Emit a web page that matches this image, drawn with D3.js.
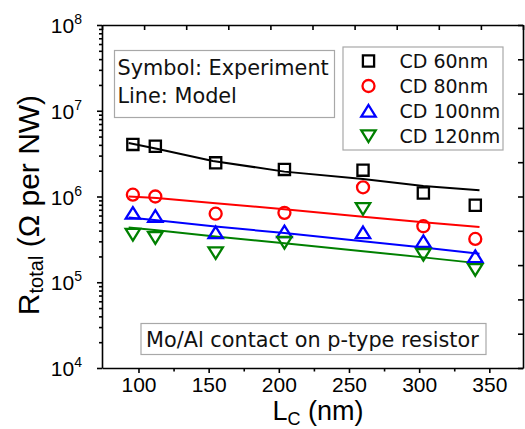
<!DOCTYPE html>
<html>
<head>
<meta charset="utf-8">
<script src="https://cdn.jsdelivr.net/npm/d3@7/dist/d3.min.js"></script>
<style>
  html, body { margin: 0; padding: 0; background: #fff; }
  svg { display: block; }
</style>
</head>
<body>
<svg id="chart" width="525" height="429"></svg>
<script>
// Contact length (nm) of the measured devices
const lc = [96, 112, 155, 204, 260, 303, 340];

// Measured total resistance (ohm per nanowire) for each critical dimension
const cd60 = [4.05e6, 3.86e6, 2.47e6, 2.07e6, 2.03e6, 1.10e6, 7.9e5];
const cd80 = [1.05e6, 1.00e6, 6.3e5, 6.45e5, 1.28e6, 4.5e5, 3.2e5];
const cd100 = [6.4e5, 5.9e5, 3.8e5, 3.9e5, 3.8e5, 3.0e5, 2.0e5];
const cd120 = [3.6e5, 3.3e5, 2.2e5, 2.9e5, 7.2e5, 2.1e5, 1.4e5];

// Model curves
const modelLc = [93, 113, 153, 204, 260, 303, 343];
const model60 = [4.2e6, 3.6e6, 2.6e6, 1.95e6, 1.6e6, 1.33e6, 1.18e6];
const model80 = [1.0e6, 9.6e5, 8.4e5, 7.1e5, 5.8e5, 5.0e5, 4.4e5];
const model100 = [5.7e5, 5.3e5, 4.5e5, 3.75e5, 3.0e5, 2.55e5, 2.15e5];
const model120 = [4.35e5, 4.05e5, 3.45e5, 2.85e5, 2.3e5, 1.95e5, 1.66e5];

const seriesNames = ["CD 60nm", "CD 80nm", "CD 100nm", "CD 120nm"];
const seriesColors = ["#000000", "#ff0000", "#0000ff", "#008000"];
const seriesShapes = ["square", "circle", "triangleUp", "triangleDown"];

const xTicks = [100, 150, 200, 250, 300, 350];
const xMinorTicks = [125, 175, 225, 275, 325];
const yTicks = [1e4, 1e5, 1e6, 1e7, 1e8];

const svg = d3.select("#chart");
const plotLeft = 102, plotRight = 523, plotTop = 25, plotBottom = 368;

const x = d3.scaleLinear().domain([74, 374]).range([plotLeft, plotRight]);
const y = d3.scaleLog().domain([1e4, 1e8]).range([plotBottom, plotTop]);

const seriesData = [cd60, cd80, cd100, cd120];
const modelData = [model60, model80, model100, model120];

// Marker outlines
function shapePath(shape) {
  switch (shape) {
    case "square": return "M-5.6,-5.6H5.6V5.6H-5.6Z";
    case "circle": return "M6,0A6,6 0 1 1 -6,0A6,6 0 1 1 6,0Z";
    case "triangleUp": return "M0,-6L7.2,5.6H-7.2Z";
    case "triangleDown": return "M0,6L7.2,-5.6H-7.2Z";
  }
}

// Model lines
const line = d3.line()
  .x((d, i) => x(modelLc[i]))
  .y(d => y(d));

modelData.forEach((vals, k) => {
  svg.append("path")
    .datum(vals)
    .attr("d", line)
    .attr("fill", "none")
    .attr("stroke", seriesColors[k])
    .attr("stroke-width", 2);
});

// Experimental markers
seriesData.forEach((vals, k) => {
  svg.append("g")
    .selectAll("path")
    .data(vals)
    .join("path")
    .attr("transform", (d, i) => `translate(${x(lc[i])},${y(d)})`)
    .attr("d", shapePath(seriesShapes[k]))
    .attr("fill", "none")
    .attr("stroke", seriesColors[k])
    .attr("stroke-width", 2.3);
});

// Axes
const axisFont = "'Liberation Sans', Arial, sans-serif";

const xAxis = svg.append("g")
  .attr("transform", `translate(0,${plotBottom})`)
  .call(d3.axisBottom(x).tickValues(xTicks).tickSize(5).tickSizeOuter(0).tickPadding(4));
xAxis.selectAll("text")
  .attr("font-family", axisFont).attr("font-size", 21).attr("fill", "#000");

svg.append("g")
  .attr("transform", `translate(0,${plotBottom})`)
  .call(d3.axisBottom(x).tickValues(xMinorTicks).tickSize(3.5).tickSizeOuter(0).tickFormat(""))
  .call(g => g.select(".domain").remove());

const yAxis = svg.append("g")
  .attr("transform", `translate(${plotLeft},0)`)
  .call(d3.axisLeft(y).tickValues(yTicks).tickSize(5).tickSizeOuter(0).tickFormat(""));

const yMinor = [];
for (let e = 4; e < 8; e++) for (let m = 2; m <= 9; m++) yMinor.push(m * Math.pow(10, e));
svg.append("g")
  .attr("transform", `translate(${plotLeft},0)`)
  .call(d3.axisLeft(y).tickValues(yMinor).tickSize(3).tickSizeOuter(0).tickFormat(""))
  .call(g => g.select(".domain").remove());

// Decade labels written as powers of ten
yAxis.selectAll(".tick").each(function (d) {
  const t = d3.select(this).append("text")
    .attr("x", -20).attr("y", 7.5)
    .attr("text-anchor", "end")
    .attr("font-family", axisFont).attr("font-size", 21).attr("fill", "#000");
  t.append("tspan").text("10");
  t.append("tspan").attr("font-size", 14).attr("dy", -9).text(Math.round(Math.log10(d)));
});

// Unlabelled top and right frame axes
const xTop = d3.scaleLinear().domain([0, 10]).range([plotLeft, plotRight]);
const yRight = d3.scaleLinear().domain([0, 10]).range([plotBottom, plotTop]);
svg.append("g")
  .attr("transform", `translate(0,${plotTop})`)
  .call(d3.axisBottom(xTop).ticks(10).tickSize(5).tickSizeOuter(0).tickFormat(""));
svg.append("g")
  .attr("transform", `translate(${plotRight},0)`)
  .call(d3.axisLeft(yRight).ticks(10).tickSize(5).tickSizeOuter(0).tickFormat(""));

svg.selectAll(".domain, .tick line").attr("stroke", "#000").attr("stroke-width", 1.6);

// Axis titles
const xTitle = svg.append("text")
  .attr("x", 318).attr("y", 420)
  .attr("text-anchor", "middle")
  .attr("font-family", axisFont).attr("font-size", 27).attr("fill", "#000");
xTitle.append("tspan").text("L");
xTitle.append("tspan").attr("font-size", 18).attr("dy", 4.5).text("C");
xTitle.append("tspan").attr("dy", -4.5).text(" (nm)");

const yTitle = svg.append("text")
  .attr("transform", "translate(39,205) rotate(-90)")
  .attr("text-anchor", "middle")
  .attr("font-family", axisFont).attr("font-size", 30).attr("fill", "#000");
yTitle.append("tspan").text("R");
yTitle.append("tspan").attr("font-size", 20).attr("dy", 4).text("total");
yTitle.append("tspan").attr("dy", -4).text(" (Ω per NW)");

// Annotation boxes
const boxFont = "'DejaVu Sans', Verdana, sans-serif";
function textBox(x0, y0, w, h, lines, x1, baselines, size) {
  svg.append("rect")
    .attr("x", x0).attr("y", y0).attr("width", w).attr("height", h)
    .attr("fill", "#fff").attr("stroke", "#a8a8a8").attr("stroke-width", 1.2);
  lines.forEach((s, i) => {
    svg.append("text")
      .attr("x", x1).attr("y", baselines[i])
      .attr("font-family", boxFont).attr("font-size", size).attr("fill", "#111")
      .text(s);
  });
}
textBox(114.5, 50.5, 220, 67, ["Symbol: Experiment", "Line: Model"], 117.5, [75, 103], 20.8);
textBox(141, 323.5, 345, 31, ["Mo/Al contact on p-type resistor"], 146, [346.5], 20.8);

// Legend
const legend = svg.append("g");
legend.append("rect")
  .attr("x", 343).attr("y", 47).attr("width", 160).attr("height", 103)
  .attr("fill", "#fff").attr("stroke", "#a8a8a8").attr("stroke-width", 1.2);
const rowY = d3.scalePoint().domain(seriesNames).range([61, 136]);
seriesNames.forEach((name, k) => {
  legend.append("path")
    .attr("transform", `translate(368.5,${rowY(name)})`)
    .attr("d", shapePath(seriesShapes[k]))
    .attr("fill", "none").attr("stroke", seriesColors[k]).attr("stroke-width", 2.3);
  legend.append("text")
    .attr("x", 399.5).attr("y", rowY(name) + 6.5)
    .attr("font-family", boxFont).attr("font-size", 19).attr("fill", "#111")
    .text(name);
});
</script>
</body>
</html>
